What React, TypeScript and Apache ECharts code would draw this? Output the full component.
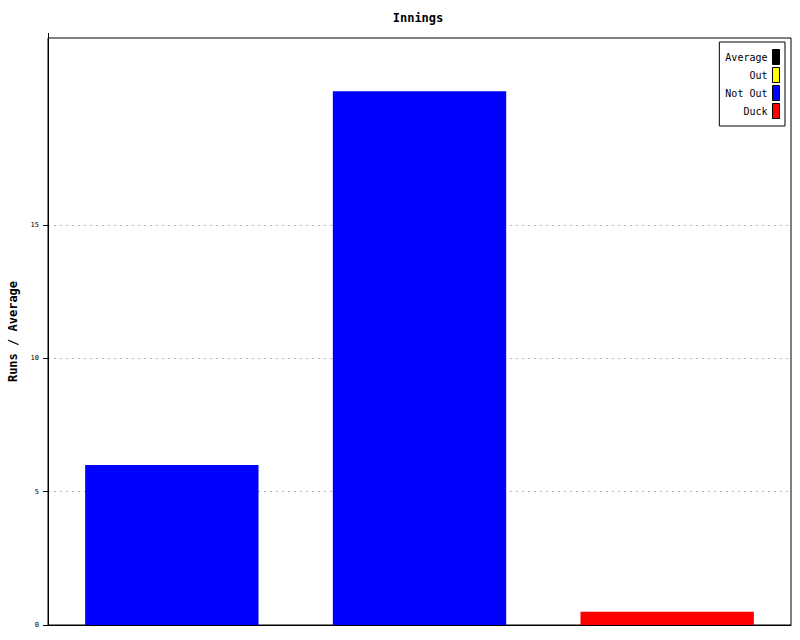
import React, { useEffect, useRef } from "react";
import * as echarts from "echarts";

const categories = ["1", "2", "3"];
const seriesNames = ["Average", "Out", "Not Out", "Duck"];
const seriesColors = ["#000000", "#ffff00", "#0000ff", "#ff0000"];
const averageValues: (number | string)[] = ["-", "-", "-"];
const outValues: (number | string)[] = ["-", "-", "-"];
const notOutValues: (number | string)[] = [6, 20, "-"];
const duckValues: (number | string)[] = ["-", "-", 0.5];
const yTicks = [0, 5, 10, 15];

const FONT = "DejaVu Sans Mono";

export default function App() {
  const ref = useRef<HTMLDivElement>(null);
  useEffect(() => {
    document.body.style.margin = "0";
    const chart = echarts.init(ref.current!, null, { renderer: "svg" });
    const data = [averageValues, outValues, notOutValues, duckValues];
    chart.setOption({
      animation: false,
      backgroundColor: "#ffffff",
      title: {
        text: "Innings",
        left: 413,
        textAlign: "center",
        top: 7,
        textStyle: { fontFamily: FONT, fontSize: 12, fontWeight: "bold", color: "#000" },
      },
      legend: {
        orient: "vertical",
        right: 15,
        top: 42,
        align: "right",
        itemWidth: 7,
        itemHeight: 15,
        itemGap: 2,
        padding: [7, 5, 7, 6],
        borderColor: "#000",
        borderWidth: 1,
        backgroundColor: "#fff",
        icon: "rect",
        itemStyle: { borderColor: "#000", borderWidth: 1 },
        textStyle: { fontFamily: FONT, fontSize: 10, color: "#000" },
        data: seriesNames,
      },
      grid: {
        left: 48,
        right: 9,
        top: 38,
        bottom: 15,
        outerBoundsMode: "none",
        containLabel: false,
        show: true,
        borderColor: "#000",
        borderWidth: 1,
        backgroundColor: "transparent",
      },
      xAxis: {
        type: "category",
        data: categories,
        axisLine: { lineStyle: { color: "#000", width: 1 } },
        axisTick: { show: false },
        axisLabel: { show: false },
        splitLine: { show: false },
      },
      yAxis: {
        type: "value",
        min: 0,
        max: 22,
        interval: 5,
        name: "Runs / Average",
        nameLocation: "middle",
        nameRotate: 90,
        nameGap: 29,
        nameTextStyle: { fontFamily: FONT, fontSize: 12, fontWeight: "bold", color: "#000" },
        axisLine: { show: true, lineStyle: { color: "#000", width: 1 } },
        axisTick: { show: true, length: 5, customValues: yTicks, lineStyle: { color: "#000" } },
        axisLabel: {
          customValues: yTicks,
          fontFamily: FONT,
          fontSize: 7,
          color: "#000",
          margin: 9,
        },
        splitLine: {
          show: true,
          lineStyle: { color: "#b4b4b4", type: [2, 4], width: 1 },
        },
      },
      graphic: [
        { type: "line", shape: { x1: 43, y1: 625.5, x2: 48, y2: 625.5 }, style: { stroke: "#000", lineWidth: 1 } },
        { type: "line", shape: { x1: 48.5, y1: 33, x2: 48.5, y2: 38 }, style: { stroke: "#000", lineWidth: 1 } },
      ],
      series: seriesNames.map((name, i) => ({
        name,
        type: "bar",
        stack: "all",
        barWidth: "70%",
        data: data[i],
        itemStyle: { color: seriesColors[i] },
      })),
    });
    return () => chart.dispose();
  }, []);
  return <div ref={ref} style={{ position: "absolute", left: 0, top: 0, width: 800, height: 640 }} />;
}
